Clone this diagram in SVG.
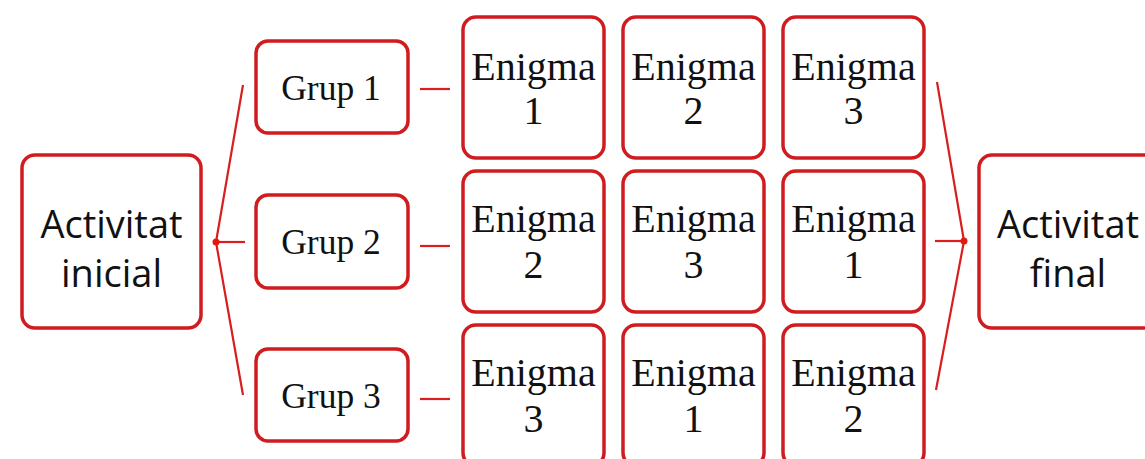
<svg xmlns="http://www.w3.org/2000/svg" width="1145" height="459" viewBox="0 0 1145 459">
<style>
.box{fill:#fff;stroke:#d01c1f;stroke-width:3.5}
.sans{font-family:"Open Sans","Noto Sans",sans-serif;font-size:38px;fill:#111;text-anchor:middle}
.serif{font-family:"Liberation Serif","Times New Roman",serif;fill:#111;text-anchor:middle}
.grp{font-size:35.5px}
.enig{font-size:40px}
.con{stroke:#d81e1e;stroke-width:2.2;fill:none}
.dot{fill:#e8170c}
</style>
<rect width="1145" height="459" fill="#fff"/>
<g id="connectors">
<polyline class="con" points="243,85 216,242 243,395"/>
<line class="con" x1="216" y1="242" x2="245" y2="242"/>
<circle class="dot" cx="216" cy="242" r="3.5"/>
<line class="con" x1="420" y1="89" x2="450" y2="89"/>
<line class="con" x1="420" y1="246" x2="450" y2="246"/>
<line class="con" x1="420" y1="399" x2="450" y2="399"/>
<polyline class="con" points="937,82 964,241 936,390"/>
<line class="con" x1="935" y1="241" x2="964" y2="241"/>
<circle class="dot" cx="964" cy="241" r="3.5"/>
</g>
<g id="activitat-inicial">
<rect class="box" x="22" y="155" width="179" height="173" rx="13"/>
<text class="sans" x="111.5" y="238">Activitat</text>
<text class="sans" x="111.5" y="287">inicial</text>
</g>
<g id="activitat-final">
<rect class="box" x="979" y="155" width="179" height="173" rx="13"/>
<text class="sans" x="1068" y="238">Activitat</text>
<text class="sans" x="1068" y="287">final</text>
</g>
<g id="grup-1">
<rect class="box" x="256" y="41" width="152" height="92" rx="12"/>
<text class="serif grp" x="331" y="100">Grup 1</text>
</g>
<g id="grup-2">
<rect class="box" x="256" y="195" width="152" height="93" rx="12"/>
<text class="serif grp" x="331" y="254">Grup 2</text>
</g>
<g id="grup-3">
<rect class="box" x="256" y="349" width="152" height="92" rx="12"/>
<text class="serif grp" x="331" y="408">Grup 3</text>
</g>
<g id="r1-enigma-1">
<rect class="box" x="463" y="17" width="141" height="141" rx="13"/>
<text class="serif enig" x="533.5" y="80">Enigma</text>
<text class="serif enig" x="533.5" y="124">1</text>
</g>
<g id="r1-enigma-2">
<rect class="box" x="623" y="17" width="141" height="141" rx="13"/>
<text class="serif enig" x="693.5" y="80">Enigma</text>
<text class="serif enig" x="693.5" y="124">2</text>
</g>
<g id="r1-enigma-3">
<rect class="box" x="783" y="17" width="141" height="141" rx="13"/>
<text class="serif enig" x="853.5" y="80">Enigma</text>
<text class="serif enig" x="853.5" y="124">3</text>
</g>
<g id="r2-enigma-2">
<rect class="box" x="463" y="171" width="141" height="141" rx="13"/>
<text class="serif enig" x="533.5" y="232">Enigma</text>
<text class="serif enig" x="533.5" y="278">2</text>
</g>
<g id="r2-enigma-3">
<rect class="box" x="623" y="171" width="141" height="141" rx="13"/>
<text class="serif enig" x="693.5" y="232">Enigma</text>
<text class="serif enig" x="693.5" y="278">3</text>
</g>
<g id="r2-enigma-1">
<rect class="box" x="783" y="171" width="141" height="141" rx="13"/>
<text class="serif enig" x="853.5" y="232">Enigma</text>
<text class="serif enig" x="853.5" y="278">1</text>
</g>
<g id="r3-enigma-3">
<rect class="box" x="463" y="325" width="141" height="141" rx="13"/>
<text class="serif enig" x="533.5" y="386">Enigma</text>
<text class="serif enig" x="533.5" y="432">3</text>
</g>
<g id="r3-enigma-1">
<rect class="box" x="623" y="325" width="141" height="141" rx="13"/>
<text class="serif enig" x="693.5" y="386">Enigma</text>
<text class="serif enig" x="693.5" y="432">1</text>
</g>
<g id="r3-enigma-2">
<rect class="box" x="783" y="325" width="141" height="141" rx="13"/>
<text class="serif enig" x="853.5" y="386">Enigma</text>
<text class="serif enig" x="853.5" y="432">2</text>
</g>
</svg>
